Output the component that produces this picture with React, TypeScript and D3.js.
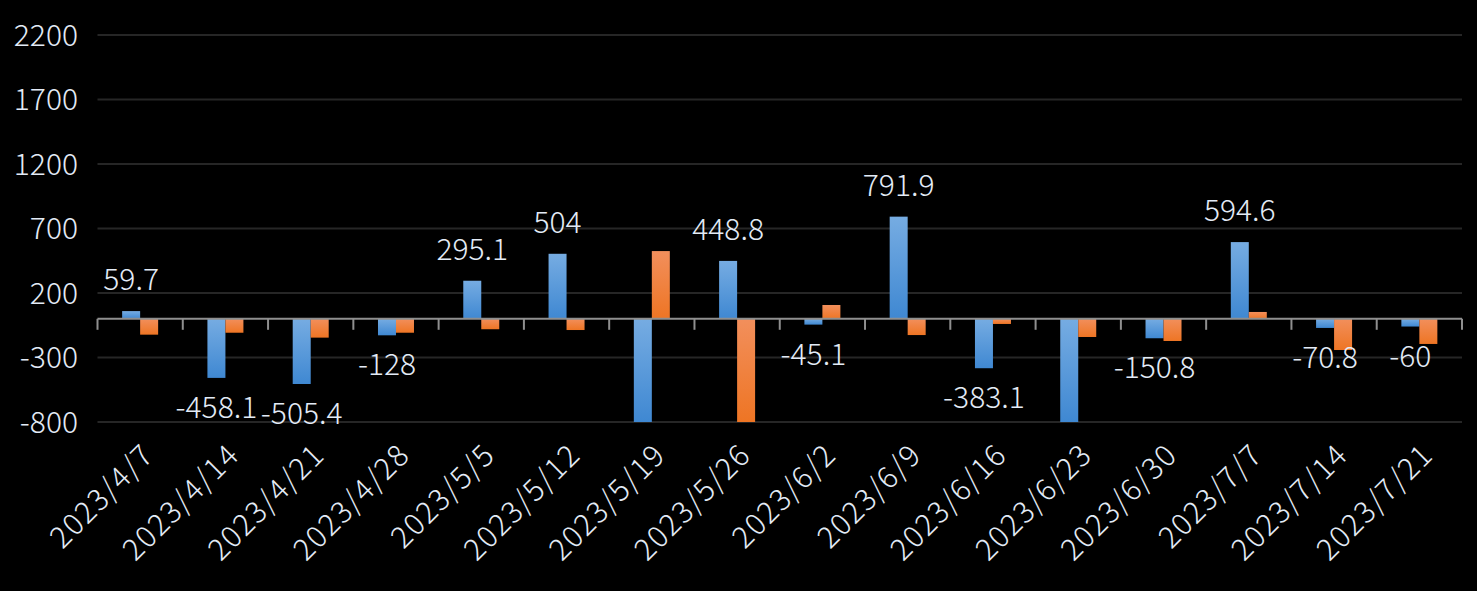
import React from "react";
import * as d3 from "d3";

const categories = [
  "2023/4/7", "2023/4/14", "2023/4/21", "2023/4/28", "2023/5/5", "2023/5/12",
  "2023/5/19", "2023/5/26", "2023/6/2", "2023/6/9", "2023/6/16", "2023/6/23",
  "2023/6/30", "2023/7/7", "2023/7/14", "2023/7/21",
];
const blueValues = [
  59.7, -458.1, -505.4, -128, 295.1, 504, -1100, 448.8, -45.1, 791.9, -383.1,
  -1000, -150.8, 594.6, -70.8, -60,
];
const orangeValues = [
  -123, -108, -146, -108, -81, -87, 525, -900, 107, -126, -40, -141, -172, 53,
  -242, -195,
];
const yTicks = [2200, 1700, 1200, 700, 200, -300, -800];

const W = 1477;
const H = 591;
const FONT = "'Noto Sans CJK TC', 'Noto Sans', sans-serif";
const TEXT = "#e3ebf6";
const FS = 30;

export default function App() {
  const x = d3.scaleBand<string>().domain(categories).range([97.5, 1462]).padding(0);
  const bw = x.bandwidth();
  const sub = d3
    .scaleBand<string>()
    .domain(["blue", "orange"])
    .range([bw * 0.289, bw * 0.711])
    .padding(0);
  const y = d3.scaleLinear().domain([-800, 2200]).range([422, 35]).clamp(true);
  const y0 = y(0);
  const fmt = (v: number) => String(v);

  const series = [
    { key: "blue", values: blueValues, grad: "gBlue" },
    { key: "orange", values: orangeValues, grad: "gOrange" },
  ];

  return (
    <svg
      width={W}
      height={H}
      style={{ position: "fixed", left: 0, top: 0, background: "#000", display: "block" }}
      fontFamily={FONT}
      fontWeight={300}
    >
      <defs>
        <linearGradient id="gBlue" x1="0" y1="0" x2="0" y2="1">
          <stop offset="0" stopColor="#76ace2" />
          <stop offset="1" stopColor="#3f88d2" />
        </linearGradient>
        <linearGradient id="gOrange" x1="0" y1="0" x2="0" y2="1">
          <stop offset="0" stopColor="#f28f5c" />
          <stop offset="1" stopColor="#ee7524" />
        </linearGradient>
      </defs>
      <rect x={0} y={0} width={W} height={H} fill="#000" />
      {yTicks.map((t) => (
        <g key={t}>
          <line x1={97.5} x2={1462} y1={y(t)} y2={y(t)} stroke="#262626" strokeWidth={2} />
          <text x={78} y={y(t)} dy="0.36em" textAnchor="end" fill={TEXT} fontSize={FS}>
            {t}
          </text>
        </g>
      ))}
      {series.map((s) =>
        s.values.map((v, i) => {
          const bx = (x(categories[i]) as number) + (sub(s.key) as number);
          const yv = y(v);
          const top = Math.min(yv, y0);
          const h = Math.abs(yv - y0);
          return (
            <rect
              key={s.key + i}
              x={bx}
              y={top}
              width={sub.bandwidth()}
              height={h}
              fill={`url(#${s.grad})`}
            />
          );
        })
      )}
      <line x1={97.5} x2={1462} y1={y0} y2={y0} stroke="#8f8f8f" strokeWidth={2} />
      {[...categories.map((c) => x(c) as number), 1462].map((tx, i) => (
        <line key={i} x1={tx} x2={tx} y1={y0} y2={y0 + 11} stroke="#8f8f8f" strokeWidth={2} />
      ))}
      {blueValues.map((v, i) => {
        if (v < -800) return null;
        const cx = (x(categories[i]) as number) + (sub("blue") as number) + sub.bandwidth() / 2;
        const yy = v >= 0 ? y(v) - 21 : y(v) + 40;
        return (
          <text key={i} x={cx} y={yy} textAnchor="middle" fill={TEXT} fontSize={FS}>
            {fmt(v)}
          </text>
        );
      })}
      {categories.map((c) => {
        const cx = (x(c) as number) + bw / 2;
        return (
          <text
            key={c}
            transform={`translate(${cx + 8},${449}) rotate(-45)`}
            textAnchor="end"
            dy="0.36em"
            fill={TEXT}
            fontSize={FS}
            letterSpacing={1.5}
          >
            {c}
          </text>
        );
      })}
    </svg>
  );
}
